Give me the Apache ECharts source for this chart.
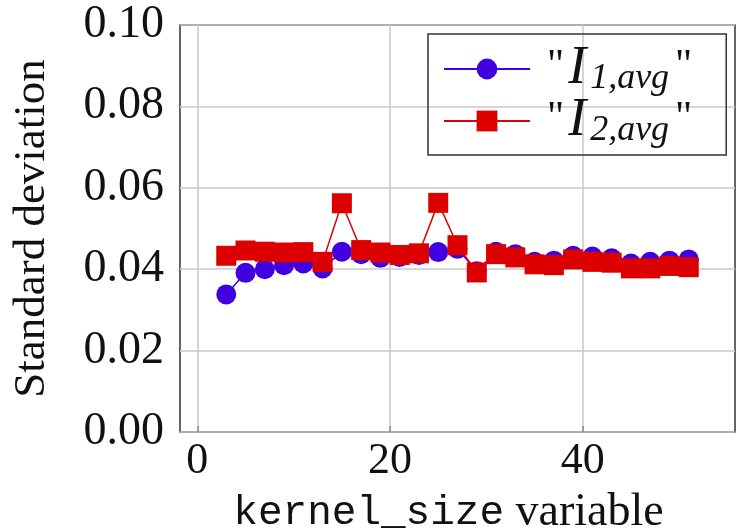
<!DOCTYPE html>
<html>
<head>
<meta charset="utf-8">
<script src="https://cdn.jsdelivr.net/npm/echarts@6/dist/echarts.min.js"></script>
<style>html,body{margin:0;padding:0;background:#fff}#c{width:736px;height:531px}</style>
</head>
<body>
<div id="c"></div>
<script>
var kernelSizes = [3,5,7,9,11,13,15,17,19,21,23,25,27,29,31,33,35,37,39,41,43,45,47,49,51];
var i1avg = [0.0338,0.0391,0.0400,0.0410,0.0414,0.0402,0.0443,0.0437,0.0428,0.0430,0.0435,0.0442,0.0450,0.0395,0.0443,0.0437,0.0418,0.0421,0.0433,0.0431,0.0427,0.0414,0.0418,0.0421,0.0424];
var i2avg = [0.0433,0.0446,0.0443,0.0441,0.0442,0.0418,0.0562,0.0447,0.0441,0.0435,0.0439,0.0563,0.0459,0.0392,0.0437,0.0429,0.0412,0.0410,0.0424,0.0418,0.0416,0.0402,0.0402,0.0408,0.0405];
var xTicks = [0,20,40];
var yTicks = [0,0.02,0.04,0.06,0.08,0.10];
var seriesNames = ['"I1,avg"','"I2,avg"'];
var subs = ['1,avg','2,avg'];

var serif = '"Liberation Serif", "DejaVu Serif", serif';
var chart = echarts.init(document.getElementById('c'), null, {renderer:'canvas'});
function pairs(xs, ys){ return xs.map(function(x,i){ return [x, ys[i]]; }); }
var blue = '#4000E0', red = '#DD0000';
chart.setOption({
  animation: false,
  backgroundColor: '#fff',
  grid: {left: 180, top: 25, right: 1, bottom: 99, show: true, borderColor: '#333', borderWidth: 1.5,
         backgroundColor: 'transparent', containLabel: false, outerBoundsMode: 'none'},
  xAxis: {
    type: 'value', min: -1.8, max: 55.8,
    name: '{tt|kernel_size}{rm| variable}',
    nameLocation: 'middle', nameGap: 58,
    nameTextStyle: {rich: {
      tt: {fontFamily: '"Liberation Mono", "DejaVu Sans Mono", monospace', fontSize: 41, color: '#111'},
      rm: {fontFamily: serif, fontSize: 46, color: '#111', padding: [0, 18, 0, 0]}
    }},
    axisLine: {show: false},
    axisTick: {show: true, inside: true, length: 6, customValues: xTicks, lineStyle: {color: '#888', width: 1.5}},
    axisLabel: {customValues: xTicks, fontFamily: serif, fontSize: 44, color: '#111', margin: 7},
    splitLine: {show: true, lineStyle: {color: '#c8c8c8', width: 1.5}}
  },
  yAxis: {
    type: 'value', min: 0, max: 0.1, interval: 0.02,
    name: 'Standard deviation', nameLocation: 'middle', nameGap: 125,
    nameTextStyle: {fontFamily: serif, fontSize: 45, color: '#111'},
    axisLine: {show: false},
    axisTick: {show: false},
    axisLabel: {fontFamily: serif, fontSize: 46, color: '#111', margin: 16,
      formatter: function(v){ return v.toFixed(2); }},
    splitLine: {show: true, lineStyle: {color: '#c8c8c8', width: 1.5}}
  },
  legend: {
    orient: 'vertical', left: 428, top: 34,
    borderColor: '#333', borderWidth: 1.5, borderRadius: 0,
    padding: [7, 34, 6, 15], itemGap: -4,
    itemWidth: 86, itemHeight: 26,
    data: seriesNames,
    formatter: function(name){ var k = seriesNames.indexOf(name); return '{q0|"}{I|I}{s|' + subs[k] + '}{q|"}'; },
    textStyle: {rich: {
      q0: {fontFamily: serif, fontSize: 42, color: '#111', verticalAlign: 'top', lineHeight: 46, padding: [0, 4, 0, 12]},
      q: {fontFamily: serif, fontSize: 42, color: '#111', verticalAlign: 'top', lineHeight: 46, padding: [0, 0, 0, 6]},
      I: {fontFamily: serif, fontStyle: 'italic', fontSize: 54, color: '#111', lineHeight: 46, verticalAlign: 'middle'},
      s: {fontFamily: serif, fontStyle: 'italic', fontSize: 36, color: '#111', lineHeight: 26, padding: [20, 0, 0, 4], verticalAlign: 'middle'}
    }}
  },
  series: [
    {name: seriesNames[0], type: 'line', data: pairs(kernelSizes, i1avg), symbol: 'circle', symbolSize: 20,
     itemStyle: {color: blue}, lineStyle: {color: blue, width: 1.5}},
    {name: seriesNames[1], type: 'line', data: pairs(kernelSizes, i2avg), symbol: 'rect', symbolSize: 20,
     itemStyle: {color: red}, lineStyle: {color: red, width: 1.5}}
  ]
});
</script>
</body>
</html>
